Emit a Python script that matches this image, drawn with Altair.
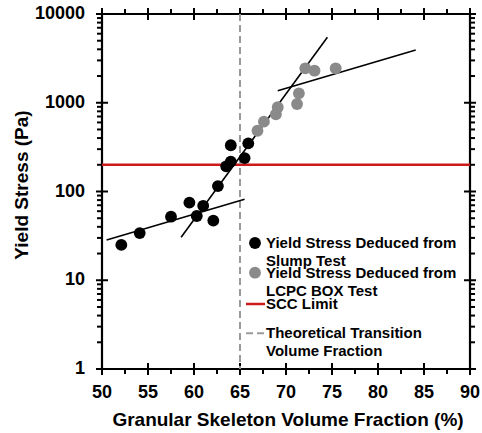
import altair as alt
import pandas as pd

# ---- data ----
slump_x = [52.1, 54.1, 57.5, 59.5, 60.3, 61.0, 62.1, 62.6, 63.5, 64.0, 64.0, 65.5, 65.9]
slump_y = [25, 34, 52, 75, 53, 69, 47, 115, 192, 217, 332, 238, 349]
lcpc_x = [66.9, 67.6, 68.9, 69.1, 71.2, 71.4, 72.1, 73.1, 75.4]
lcpc_y = [484, 612, 741, 889, 968, 1277, 2444, 2297, 2444]
fit_x_start = [50.5, 58.6, 69.1]
fit_y_start = [28.4, 30.5, 1367]
fit_x_end = [65.5, 74.5, 84.1]
fit_y_end = [81.7, 5460, 3930]
scc_limit = [200]
transition = [65]

x_major_ticks = [50, 55, 60, 65, 70, 75, 80, 85, 90]
x_minor_ticks = [52.5, 57.5, 62.5, 67.5, 72.5, 77.5, 82.5, 87.5]
y_major_ticks = [1, 10, 100, 1000, 10000]
y_minor_ticks = [m * 10 ** e for e in range(4) for m in range(2, 10)]
x_edges = [50, 90]
y_edges = [1, 10000]
x_title = "Granular Skeleton Volume Fraction (%)"
y_title = "Yield Stress (Pa)"

FONT = "Liberation Sans"
BLACK = "#000000"
GRAY = "#8a8a8a"
RED = "#cc1a1a"
DASH = "#9a9a9a"
W, H = 368, 355

xscale = alt.Scale(domain=[50, 90], nice=False, zero=False)
yscale = alt.Scale(type="log", domain=[1, 10000], nice=False)


def X(field):
    return alt.X(field, scale=xscale, axis=None)


def Y(field):
    return alt.Y(field, scale=yscale, axis=None)


lcpc_df = pd.DataFrame({"x": lcpc_x, "y": lcpc_y})
slump_df = pd.DataFrame({"x": slump_x, "y": slump_y})
fit_df = pd.DataFrame({"x": fit_x_start, "y": fit_y_start, "x2": fit_x_end, "y2": fit_y_end})

# ---- frame (rectangle over the full domain) ----
frame = alt.Chart(pd.DataFrame({
    "fx0": [x_edges[0]], "fx1": [x_edges[1]], "fy0": [y_edges[0]], "fy1": [y_edges[1]]
})).mark_rect(fillOpacity=0, fill="white", stroke=BLACK, strokeWidth=2.2).encode(
    x=X("fx0:Q"), x2="fx1:Q", y=Y("fy0:Q"), y2="fy1:Q"
)


# ---- tick marks drawn as short rules ----
def xticks(values, y_from, y_to):
    return alt.Chart(pd.DataFrame({"tx": values})).mark_rule(color=BLACK, strokeWidth=2).encode(
        x=X("tx:Q"), y=alt.value(y_from), y2=alt.value(y_to))


def yticks(values, x_from, x_to):
    return alt.Chart(pd.DataFrame({"ty": values})).mark_rule(color=BLACK, strokeWidth=2).encode(
        y=Y("ty:Q"), x=alt.value(x_from), x2=alt.value(x_to))


ticks = [
    xticks(x_major_ticks, H - 6, H + 6),
    xticks(x_minor_ticks, H, H + 5),
    xticks(x_major_ticks, -6, 6),
    xticks(x_minor_ticks, -5, 0),
    yticks(y_major_ticks, -6, 6),
    yticks(y_minor_ticks, -5, 0),
    yticks(y_major_ticks, W - 6, W + 6),
    yticks(y_minor_ticks, W, W + 5),
]

limit = alt.Chart(pd.DataFrame({"y": scc_limit})).mark_rule(color=RED, strokeWidth=2.5).encode(
    y=Y("y:Q"))
trans = alt.Chart(pd.DataFrame({"x": transition})).mark_rule(
    color=DASH, strokeWidth=2, strokeDash=[7, 4]
).encode(x=X("x:Q"))

fits = alt.Chart(fit_df).mark_rule(color=BLACK, strokeWidth=1.6).encode(
    x=X("x:Q"), y=Y("y:Q"), x2="x2:Q", y2="y2:Q",
)

lcpc = alt.Chart(lcpc_df).mark_circle(color=GRAY, size=140, opacity=1).encode(
    x=X("x:Q"), y=Y("y:Q"))
slump = alt.Chart(slump_df).mark_circle(color=BLACK, size=140, opacity=1).encode(
    x=X("x:Q"), y=Y("y:Q"))

# ---- tick labels and axis titles ----
x_labels = alt.Chart(pd.DataFrame({"lab": x_major_ticks})).mark_text(
    font=FONT, fontWeight="bold", fontSize=18, color=BLACK, align="center", baseline="middle"
).encode(x=X("lab:Q"), y=alt.value(H + 24), text=alt.Text("lab:Q", format="d"))
y_labels = alt.Chart(pd.DataFrame({"lab": y_major_ticks})).mark_text(
    font=FONT, fontWeight="bold", fontSize=18, color=BLACK, align="right", baseline="middle"
).encode(y=Y("lab:Q"), x=alt.value(-17), text=alt.Text("lab:Q", format="d"))
x_title_mark = alt.Chart(alt.Data(values=[{}])).mark_text(
    text=x_title, font=FONT, fontWeight="bold", fontSize=19, color=BLACK,
    align="center", baseline="middle",
).encode(x=alt.value(186), y=alt.value(H + 51))
y_title_mark = alt.Chart(alt.Data(values=[{}])).mark_text(
    text=y_title, font=FONT, fontWeight="bold", fontSize=19, color=BLACK,
    align="center", baseline="middle", angle=270,
).encode(x=alt.value(-80), y=alt.value(171))

# ---- legend drawn inside the plot ----
one = alt.Data(values=[{}])
LX_SYM = 153
LX_TXT = 164


def legend_text(lines, y):
    return alt.Chart(one).mark_text(
        text=lines, align="left", baseline="middle", font=FONT, fontWeight="bold",
        fontSize=15, lineHeight=18, color=BLACK,
    ).encode(x=alt.value(LX_TXT), y=alt.value(y))


leg = [
    alt.Chart(one).mark_circle(color=BLACK, size=140, opacity=1).encode(
        x=alt.value(LX_SYM), y=alt.value(229)),
    legend_text(["Yield Stress Deduced from", "Slump Test"], 229),
    alt.Chart(one).mark_circle(color=GRAY, size=140, opacity=1).encode(
        x=alt.value(LX_SYM), y=alt.value(258.7)),
    legend_text(["Yield Stress Deduced from", "LCPC BOX Test"], 258.7),
    alt.Chart(one).mark_rule(color=RED, strokeWidth=2.5).encode(
        x=alt.value(144), x2=alt.value(163), y=alt.value(290)),
    legend_text(["SCC Limit"], 289.5),
    alt.Chart(one).mark_rule(color=DASH, strokeWidth=2, strokeDash=[7, 4]).encode(
        x=alt.value(144), x2=alt.value(163), y=alt.value(319.3)),
    legend_text(["Theoretical Transition", "Volume Fraction"], 319.3),
]

chart = alt.layer(frame, *ticks, limit, trans, fits, lcpc, slump,
                  x_labels, y_labels, x_title_mark, y_title_mark, *leg).properties(
    width=W, height=H,
    autosize=alt.AutoSizeParams(type="none"),
    padding={"left": 102, "top": 14, "right": 12, "bottom": 64},
).configure_view(stroke=None)

chart.save("out.html", embed_options={"renderer": "svg", "actions": False})
